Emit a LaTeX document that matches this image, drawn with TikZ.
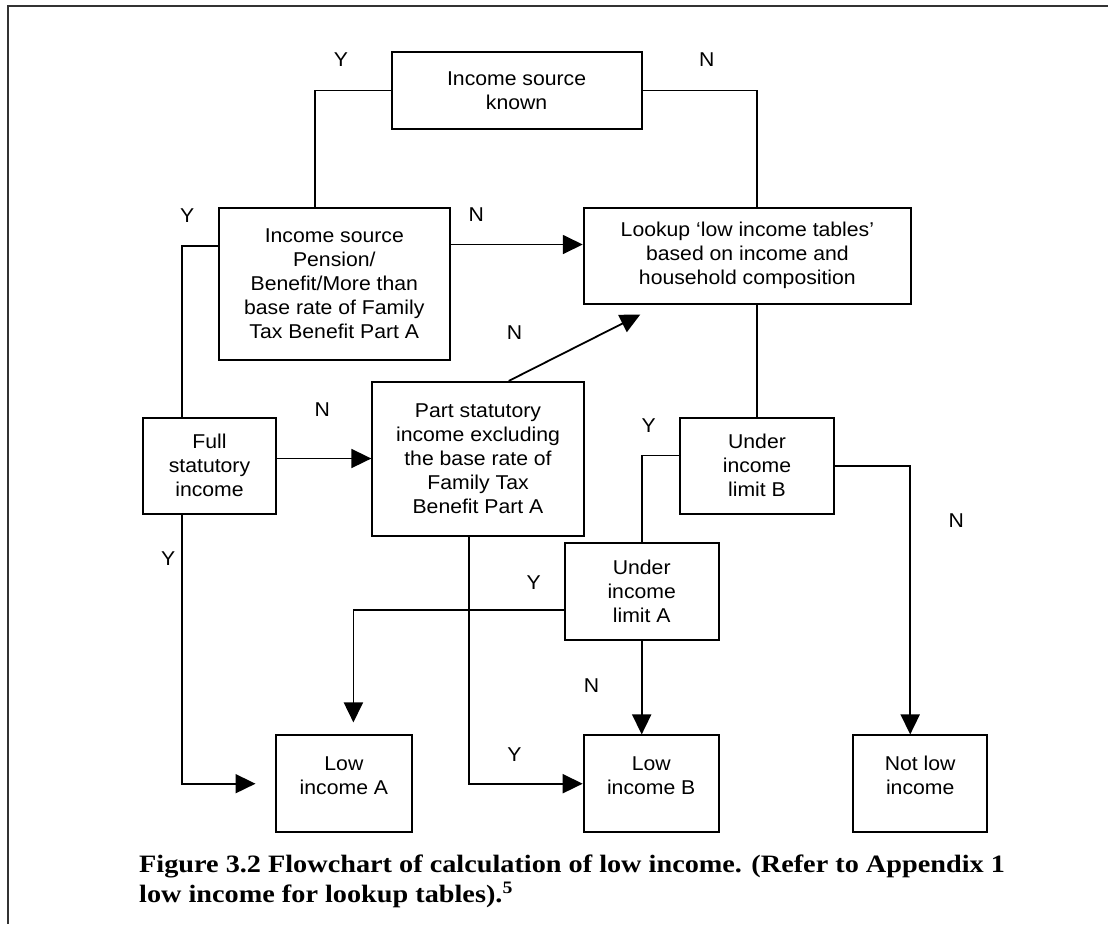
\documentclass[tikz,border=0pt]{standalone}
\usepackage{fontspec}
\setmainfont{Liberation Sans}
\newfontfamily\boxfont[FakeStretch=1.06]{Liberation Sans}
\newfontfamily\capfont[FakeStretch=1.13]{Liberation Serif}
\usetikzlibrary{arrows.meta,calc}
\begin{document}
\begin{tikzpicture}[x=1pt,y=-1pt,
  box/.style={draw=black,line width=2pt,align=center,inner sep=0pt,
    font=\boxfont\fontsize{20}{24}\selectfont},
  conn/.style={line width=1.8pt,draw=black},
  arr/.style={conn,-{Triangle[length=20pt,width=19pt]}},
  lbl/.style={font=\boxfont\fontsize{20}{24}\selectfont,inner sep=0pt},
  frame/.style={draw=black!80,line width=2pt}]
\useasboundingbox (0,0) rectangle (1108,924);
% partial frame
\coordinate (fr1) at (1108,6);
\coordinate (fr2) at (8,6);
\coordinate (fr3) at (8,924);
\draw[frame] (fr1) -- (fr2) -- (fr3);

% boxes
\node[box,minimum width=250pt,minimum height=77pt] (known) at (516.6,90.5) {Income source\\known};
\node[box,minimum width=230.5pt,minimum height=151.5pt] (pension) at (334.3,283.8) {Income source\\Pension/\\Benefit/More than\\base rate of Family\\Tax Benefit Part A};
\node[box,minimum width=327.3pt,minimum height=96pt] (lookup) at (747.4,255.5) {Lookup ‘low income tables’\\based on income and\\household composition};
\node[box,minimum width=133.5pt,minimum height=96pt] (full) at (209.5,465.8) {Full\\statutory\\income};
\node[box,minimum width=211.3pt,minimum height=153.8pt] (part) at (478,458.8) {Part statutory\\income excluding\\the base rate of\\Family Tax\\Benefit Part A};
\node[box,minimum width=154pt,minimum height=96pt] (underB) at (757,465.8) {Under\\income\\limit B};
\node[box,minimum width=154pt,minimum height=96.7pt] (underA) at (641.7,591.7) {Under\\income\\limit A};
\node[box,minimum width=135.2pt,minimum height=96.5pt,
  label={[name=lowAt,lbl,align=center,yshift=8pt]center:Low\\income A}] (lowA) at (343.9,783.7) {};
\node[box,minimum width=135pt,minimum height=96.5pt,
  label={[name=lowBt,lbl,align=center,yshift=8pt]center:Low\\income B}] (lowB) at (651.2,783.7) {};
\node[box,minimum width=134.3pt,minimum height=96.5pt,
  label={[name=notlowt,lbl,align=center,yshift=8pt]center:Not low\\income}] (notlow) at (920.2,783.7) {};

% connectors
\draw[conn] (known.west) -| ([xshift=-19pt]pension.north);
\draw[conn] (known.east) -| ([xshift=9.6pt]lookup.north);
\coordinate (p1) at ([yshift=39.3pt]pension.east);
\draw[arr] (p1) -- (p1 -| lookup.west);
\coordinate (p2) at ([yshift=37.5pt]pension.west);
\draw[conn] (p2) -| ([xshift=-27.2pt]full.north);
\coordinate (dtip) at ([shift={(-107.1pt,-10pt)}]lookup.south);
\draw[arr] ([xshift=30.8pt]part.north) -- (dtip);
\coordinate (f1) at ([yshift=7.3pt]full.east);
\draw[arr] (f1) -- (f1 -| part.west);
\draw[arr,shorten >=19.8pt] ([xshift=-27.2pt]full.south) |- (lowA.west);
\draw[conn] (lookup.south -| underB.north) -- (underB.north);
\coordinate (b1) at ([yshift=10.3pt]underB.west);
\draw[conn] (b1) -| (underA.north);
\draw[arr] (underB.east) -| ([xshift=-10pt]notlow.north);
\coordinate (a1) at ([yshift=-18.3pt]underA.west);
\draw[arr,shorten >=12pt] (a1) -| ([xshift=9.5pt]lowA.north);
\draw[arr] (underA.south) -- (underA.south |- lowB.north);
\draw[arr] ([xshift=-8.7pt]part.south) |- (lowB.west);

% labels
\node[lbl] (l1) at (341,60) {Y};
\node[lbl] (l2) at (706.7,60) {N};
\node[lbl] (l3) at (476.3,215) {N};
\node[lbl] (l4) at (187.3,215.7) {Y};
\node[lbl] (l5) at (514.5,333) {N};
\node[lbl] (l6) at (322.3,409.5) {N};
\node[lbl] (l7) at (168.2,558.6) {Y};
\node[lbl] (l8) at (648.8,425.5) {Y};
\node[lbl] (l9) at (956.2,521) {N};
\node[lbl] (l10) at (533.6,582.2) {Y};
\node[lbl] (l11) at (591.5,685.3) {N};
\node[lbl] (l12) at (514.5,754.3) {Y};

% caption
\node[anchor=north west,align=left,inner sep=0pt,
  font=\capfont\bfseries\fontsize{25}{30}\selectfont] (cap) at (139,855)
  {Figure 3.2 Flowchart of calculation of low income. (Refer to Appendix 1\\low income for lookup tables).\textsuperscript{5}};
\end{tikzpicture}
\end{document}
